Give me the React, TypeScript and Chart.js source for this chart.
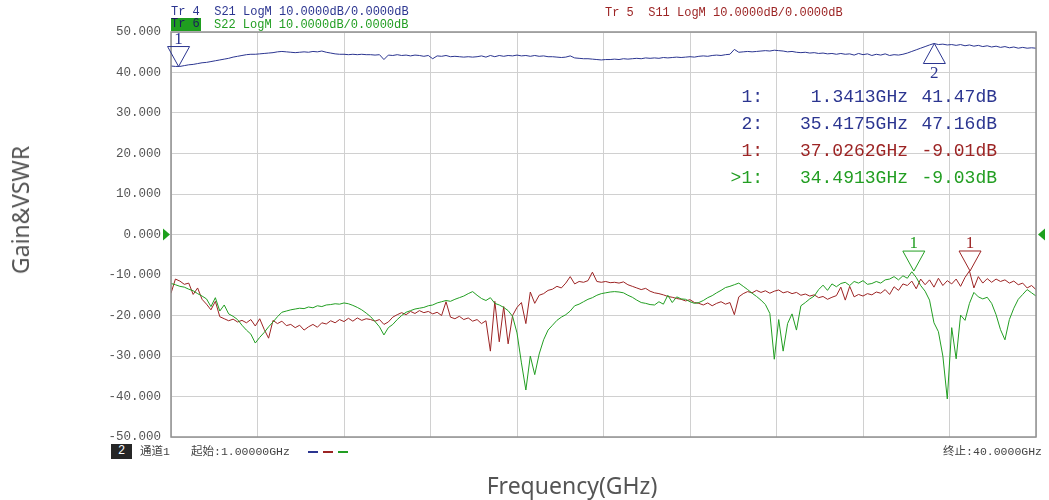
import React, { useEffect, useRef } from 'react';
import { Chart, registerables } from 'chart.js';

Chart.register(...registerables);

// ---------- Sweep definition ----------
const START_GHZ = 1;
const STOP_GHZ = 40;
const STEP_GHZ = 0.2;
const FREQS: number[] = Array.from(
  { length: Math.round((STOP_GHZ - START_GHZ) / STEP_GHZ) + 1 },
  (_, i) => +(START_GHZ + i * STEP_GHZ).toFixed(2)
);

// ---------- Axis ----------
const Y_MIN = -50;
const Y_MAX = 50;
const Y_STEP = 10;
const X_DIVISIONS = 10;

// ---------- Trace values (dB), one per sweep point ----------
const S21: number[] = [
  41.6, 41.5, 41.5, 41.7, 41.9, 42.0, 42.2, 42.4, 42.5, 42.7,
  42.9, 43.1, 43.3, 43.5, 43.8, 44.0, 44.2, 44.4, 44.5, 44.5,
  44.6, 44.7, 44.8, 44.9, 45.1, 45.2, 45.1, 45.0, 44.9, 45.0,
  45.1, 45.0, 45.2, 45.1, 45.3, 45.0, 44.8, 44.6, 44.5, 44.5,
  44.4, 44.5, 44.4, 44.5, 44.4, 44.4, 44.3, 44.4, 43.2, 44.3,
  44.2, 44.4, 44.2, 44.3, 44.1, 44.3, 44.2, 44.0, 44.2, 43.4,
  44.1, 44.0, 44.2, 43.9, 44.0, 43.9, 43.8, 43.9, 43.8, 43.9,
  44.1, 43.8, 44.2, 43.9, 44.2, 44.0, 44.2, 44.1, 44.3, 44.1,
  44.2, 44.0, 44.2, 44.0, 44.1, 43.9, 43.9, 43.8, 43.7, 43.8,
  44.1, 43.6, 43.5, 43.4, 43.4, 43.3, 43.2, 43.1, 43.2, 43.2,
  43.3, 43.2, 43.4, 43.3, 43.4, 43.5, 43.4, 43.6, 43.5, 43.6,
  43.5, 43.7, 43.6, 43.7, 43.8, 43.7, 43.8, 43.9, 43.8, 44.0,
  44.1, 44.0, 44.2, 44.3, 44.2, 44.4, 44.5, 45.7, 45.0, 45.1,
  45.2, 45.1, 45.2, 45.3, 45.4, 45.3, 45.5, 45.4, 45.3, 45.1,
  45.2, 45.0, 44.9, 45.0, 44.8, 44.9, 44.7, 44.8, 44.6, 44.7,
  44.5, 44.7, 44.5, 44.6, 44.3, 44.7, 44.4, 44.6, 44.2, 44.5,
  44.3, 44.6, 44.2, 44.4, 44.3, 44.5, 44.8, 45.2, 45.6, 46.0,
  46.4, 46.8, 47.16, 46.9, 47.0, 46.8, 46.9, 46.7, 46.9, 46.6,
  46.8, 46.5, 46.7, 46.4, 46.6, 46.3, 46.5, 46.2, 46.4, 46.1,
  46.3, 46.0, 46.2, 46.0, 46.1, 46.0,
];

const S11: number[] = [
  -14.5, -11.0, -11.5, -12.3, -12.0, -14.8, -13.2, -16.0, -17.2, -18.6,
  -16.5, -20.3, -20.8, -21.3, -20.9, -21.6, -21.2, -21.8, -21.0, -22.6,
  -20.8, -23.4, -25.6, -21.2, -22.0, -21.4, -22.5, -22.2, -23.0, -22.4,
  -23.6, -22.8, -22.2, -22.9, -21.8, -22.1, -21.3, -21.8, -21.0, -21.5,
  -20.7, -21.4, -20.6, -21.2, -20.8, -21.0, -21.4, -21.0, -22.2, -21.6,
  -20.4, -19.8, -19.3, -19.8, -19.0, -19.5, -18.8, -19.3, -19.0, -19.6,
  -19.2, -20.0, -16.6, -20.4, -20.8, -20.2, -21.0, -20.6, -21.4, -21.0,
  -22.0, -21.3, -28.8, -16.5, -26.5, -17.8, -27.0, -20.0, -18.0, -16.8,
  -22.0, -14.2, -17.0, -15.0, -14.6, -13.8, -13.5, -12.8, -13.2, -12.0,
  -10.4, -12.2, -11.6, -11.8, -11.4, -9.3, -11.6, -11.8, -11.6, -11.9,
  -11.8, -12.0, -11.7, -12.4, -12.8, -13.2, -13.6, -13.3, -14.0, -14.4,
  -14.6, -14.9, -15.3, -15.5, -15.8, -16.0, -16.4, -16.1, -16.8, -17.0,
  -17.4, -16.9, -17.6, -17.0, -16.6, -17.2, -16.8, -19.8, -15.4, -14.6,
  -14.1, -14.4, -13.8, -14.3, -13.9, -14.5, -14.0, -13.7, -14.4, -14.1,
  -14.6, -14.3, -15.0, -14.7, -15.2, -14.9, -15.6, -15.3, -16.0, -15.5,
  -15.1, -13.0, -16.2, -12.8, -15.4, -14.8, -15.2, -14.6, -14.9, -14.2,
  -14.5, -13.6, -14.8, -12.9, -13.8, -12.2, -12.6, -11.5, -13.4, -11.0,
  -12.4, -11.2, -13.0, -10.8, -12.6, -11.4, -12.2, -11.0, -12.8, -10.6,
  -9.0, -13.2, -10.4, -12.0, -10.9, -11.8, -11.0, -11.6, -11.2, -12.0,
  -11.5, -12.4, -12.0, -13.2, -12.6, -13.6,
];

const S22: number[] = [
  -12.1, -12.4, -12.8, -13.0, -13.5, -13.9, -14.6, -15.2, -15.9, -17.8,
  -15.6, -18.9, -17.4, -19.6, -20.2, -21.0, -22.4, -23.6, -24.6, -26.8,
  -25.4, -24.2, -22.8, -21.6, -20.3, -19.2, -18.9, -18.6, -18.4, -18.2,
  -18.3, -17.9, -18.1, -17.6, -17.8, -17.4, -17.3, -17.1, -17.2, -16.9,
  -17.1, -17.5, -18.0, -18.6, -19.4, -20.3, -21.5, -22.8, -24.8, -23.0,
  -22.2, -21.0, -20.0, -19.2, -18.8, -18.4, -18.2, -18.0, -17.6, -17.4,
  -16.9, -16.6, -16.3, -16.5, -16.0, -15.6, -15.2, -14.6, -14.1, -15.0,
  -15.8, -16.3, -15.6, -17.0, -17.4, -18.0, -18.8, -20.2, -24.3, -31.7,
  -38.4, -30.0, -34.6, -29.5, -26.0, -23.6, -22.4, -21.2, -20.4, -19.8,
  -18.9, -17.6, -17.2, -16.6, -16.0, -15.6, -15.0, -14.6, -14.4, -14.2,
  -14.1, -14.2, -14.4, -15.0, -15.5, -16.2, -16.8, -17.0, -17.3, -17.4,
  -16.6, -17.2, -15.0, -16.8, -15.4, -15.9, -16.0, -16.6, -17.0, -16.8,
  -16.3, -15.6, -15.1, -14.4, -13.8, -13.1, -12.8, -12.4, -12.0, -12.8,
  -13.6, -14.5, -15.3, -16.2, -17.3, -19.5, -30.8, -21.0, -28.8, -22.0,
  -19.6, -23.6, -17.6, -16.8, -15.9, -15.2, -13.6, -12.5, -13.8, -12.2,
  -12.9, -12.1, -11.8, -12.6, -11.6, -12.0, -11.4, -12.3, -12.1, -11.6,
  -12.0, -11.2, -11.0, -10.4, -11.2, -10.2, -10.8, -9.2, -10.6, -12.6,
  -14.0, -16.2, -21.8, -24.0, -30.0, -40.6, -23.0, -30.7, -19.9, -21.2,
  -17.0, -14.3, -15.4, -15.9, -15.5, -17.0, -19.8, -23.5, -26.0, -21.0,
  -18.2, -16.0, -14.8, -13.6, -14.4, -15.2,
];

// ---------- Markers ----------
const MARKER_TRACE = ['S21', 'S21', 'S11', 'S22'];
const MARKER_NAME = ['1', '2', '1', '1'];
const MARKER_FREQ = [1.3413, 35.4175, 37.0262, 34.4913];
const MARKER_DB = [41.47, 47.16, -9.01, -9.03];
const ACTIVE_MARKER = 3;

// ---------- Header texts ----------
const TRACE_HEADERS = [
  { tr: 'Tr 4', text: 'S21 LogM 10.0000dB/0.0000dB' },
  { tr: 'Tr 6', text: 'S22 LogM 10.0000dB/0.0000dB' },
  { tr: 'Tr 5', text: 'S11 LogM 10.0000dB/0.0000dB' },
];
const CHANNEL_TEXT = '通道1';
const START_TEXT = '起始:1.00000GHz';
const STOP_TEXT = '终止:40.0000GHz';
const Y_TITLE = 'Gain&VSWR';
const X_TITLE = 'Frequency(GHz)';

// ---------- Styles ----------
const COLORS: Record<string, string> = {
  S21: '#2b3590',
  S11: '#9c2424',
  S22: '#229e22',
};
const MONO = '"Liberation Mono", "DejaVu Sans Mono", monospace';
const CJK = '"Liberation Mono", "Noto Sans CJK SC", monospace';
const W = 1049;
const H = 500;

const markerPlugin = {
  id: 'vnaMarkers',
  afterDatasetsDraw(chart: any) {
    const { ctx, chartArea, scales } = chart;
    const xs = scales.x;
    const ys = scales.y;
    ctx.save();
    // frame
    ctx.strokeStyle = '#909090';
    ctx.lineWidth = 1.5;
    ctx.strokeRect(chartArea.left, chartArea.top, chartArea.right - chartArea.left, chartArea.bottom - chartArea.top);

    // markers
    ctx.lineWidth = 1;
    ctx.font = '17px "Liberation Serif", serif';
    ctx.textAlign = 'center';
    MARKER_FREQ.forEach((f, i) => {
      const color = COLORS[MARKER_TRACE[i]];
      const px = xs.getPixelForValue(f);
      const py = ys.getPixelForValue(MARKER_DB[i]);
      const up = MARKER_NAME[i] === '2';
      ctx.strokeStyle = color;
      ctx.fillStyle = color;
      ctx.beginPath();
      if (up) {
        ctx.moveTo(px, py);
        ctx.lineTo(px - 11, py + 20);
        ctx.lineTo(px + 11, py + 20);
      } else {
        ctx.moveTo(px, py);
        ctx.lineTo(px - 11, py - 20);
        ctx.lineTo(px + 11, py - 20);
      }
      ctx.closePath();
      ctx.stroke();
      if (up) {
        ctx.textBaseline = 'top';
        ctx.fillText(MARKER_NAME[i], px, py + 22);
      } else {
        ctx.textBaseline = 'bottom';
        ctx.fillText(MARKER_NAME[i], px, py - 19);
      }
    });

    // reference level arrows at 0 dB
    const y0 = ys.getPixelForValue(0);
    ctx.fillStyle = '#1ea01e';
    ctx.beginPath();
    ctx.moveTo(chartArea.left - 8, y0 - 6);
    ctx.lineTo(chartArea.left - 1, y0);
    ctx.lineTo(chartArea.left - 8, y0 + 6);
    ctx.closePath();
    ctx.fill();
    ctx.beginPath();
    ctx.moveTo(chartArea.right + 9, y0 - 6);
    ctx.lineTo(chartArea.right + 2, y0);
    ctx.lineTo(chartArea.right + 9, y0 + 6);
    ctx.closePath();
    ctx.fill();
    ctx.restore();
  },
};

function ChartCanvas() {
  const ref = useRef<HTMLCanvasElement | null>(null);
  useEffect(() => {
    if (!ref.current) return;
    const series: Record<string, number[]> = { S21, S11, S22 };
    const xGrid = Array.from({ length: X_DIVISIONS + 1 }, (_, k) =>
      +(START_GHZ + ((STOP_GHZ - START_GHZ) * k) / X_DIVISIONS).toFixed(3)
    );
    const chart = new Chart(ref.current, {
      type: 'line',
      data: {
        datasets: ['S21', 'S22', 'S11'].map((key) => ({
          label: key,
          data: FREQS.map((f, i) => ({ x: f, y: series[key][i] })),
          borderColor: COLORS[key],
          borderWidth: 1,
          pointRadius: 0,
          tension: 0,
          fill: false,
        })),
      },
      options: {
        animation: false,
        responsive: false,
        maintainAspectRatio: false,
        devicePixelRatio: 1,
        layout: { padding: { left: 0, right: 13, top: 32, bottom: 63 } },
        plugins: { legend: { display: false }, tooltip: { enabled: false } },
        scales: {
          x: {
            type: 'linear',
            min: START_GHZ,
            max: STOP_GHZ,
            ticks: { display: false },
            grid: { color: '#d0d0d0', lineWidth: 1, drawTicks: false },
            border: { display: false },
            afterBuildTicks: (s: any) => {
              s.ticks = xGrid.map((v) => ({ value: v }));
            },
            afterFit: (s: any) => {
              s.height = 0;
            },
          },
          y: {
            min: Y_MIN,
            max: Y_MAX,
            ticks: {
              stepSize: Y_STEP,
              callback: (v: any) => Number(v).toFixed(3),
              font: { family: MONO, size: 12.5 },
              color: '#555555',
              padding: 10,
            },
            grid: { color: '#d0d0d0', lineWidth: 1, drawTicks: false },
            border: { display: false },
            afterFit: (s: any) => {
              s.width = 171;
            },
          },
        },
      } as any,
      plugins: [markerPlugin],
    });
    return () => chart.destroy();
  }, []);
  return (
    <canvas
      ref={ref}
      width={W}
      height={H}
      style={{ position: 'absolute', left: 0, top: 0, width: W, height: H }}
    />
  );
}

const abs = (extra: React.CSSProperties): React.CSSProperties => ({
  position: 'absolute',
  whiteSpace: 'pre',
  margin: 0,
  ...extra,
});

export default function App() {
  const rowCenters = [97, 124, 151, 178];
  const headerColors = [COLORS.S21, COLORS.S22, COLORS.S11];
  return (
    <div
      style={{
        position: 'fixed',
        left: 0,
        top: 0,
        width: W,
        height: H,
        background: '#ffffff',
        overflow: 'hidden',
      }}
    >
      <ChartCanvas />

      {/* trace headers */}
      <div style={abs({ left: 171, top: 5, font: `12px ${MONO}`, lineHeight: '14px', color: headerColors[0] })}>
        {TRACE_HEADERS[0].tr + '  ' + TRACE_HEADERS[0].text}
      </div>
      <div
        style={abs({
          left: 171,
          top: 18,
          width: 30,
          height: 13,
          background: '#1f9e1f',
          font: `12px ${MONO}`,
          lineHeight: '13px',
          color: '#1b1b5c',
        })}
      >
        {TRACE_HEADERS[1].tr}
      </div>
      <div style={abs({ left: 214, top: 18, font: `12px ${MONO}`, lineHeight: '14px', color: headerColors[1] })}>
        {TRACE_HEADERS[1].text}
      </div>
      <div style={abs({ left: 605, top: 6, font: `12px ${MONO}`, lineHeight: '14px', color: headerColors[2] })}>
        {TRACE_HEADERS[2].tr + '  ' + TRACE_HEADERS[2].text}
      </div>

      {/* marker table */}
      {MARKER_FREQ.map((f, i) => {
        const color = COLORS[MARKER_TRACE[i]];
        const top = rowCenters[i] - 11;
        const font = `18px ${MONO}`;
        return (
          <React.Fragment key={i}>
            <div style={abs({ right: W - 763, top, font, lineHeight: '22px', color, textAlign: 'right' })}>
              {(i === ACTIVE_MARKER ? '>' : '') + MARKER_NAME[i] + ':'}
            </div>
            <div style={abs({ right: W - 908, top, font, lineHeight: '22px', color, textAlign: 'right' })}>
              {f.toFixed(4) + 'GHz'}
            </div>
            <div style={abs({ right: W - 997, top, font, lineHeight: '22px', color, textAlign: 'right' })}>
              {MARKER_DB[i].toFixed(2) + 'dB'}
            </div>
          </React.Fragment>
        );
      })}

      {/* footer */}
      <div
        style={abs({
          left: 111,
          top: 444,
          width: 21,
          height: 15,
          background: '#262626',
          color: '#ffffff',
          font: `12px ${MONO}`,
          lineHeight: '15px',
          textAlign: 'center',
        })}
      >
        2
      </div>
      <div style={abs({ left: 140, top: 444, font: `11.5px ${CJK}`, lineHeight: '15px', color: '#444' })}>
        {CHANNEL_TEXT}
      </div>
      <div style={abs({ left: 191, top: 444, font: `11.5px ${CJK}`, lineHeight: '15px', color: '#444' })}>
        {START_TEXT}
      </div>
      {['S21', 'S11', 'S22'].map((k, i) => (
        <div
          key={k}
          style={abs({ left: 308 + i * 15, top: 451, width: 10, height: 1.5, background: COLORS[k] })}
        />
      ))}
      <div style={abs({ right: W - 1042, top: 444, font: `11.5px ${CJK}`, lineHeight: '15px', color: '#444' })}>
        {STOP_TEXT}
      </div>

      {/* axis titles */}
      <div
        style={abs({
          left: 20,
          top: 210,
          transform: 'translate(-50%, -50%) rotate(-90deg)',
          font: `23px "Noto Sans", sans-serif`,
          color: '#555',
        })}
      >
        {Y_TITLE}
      </div>
      <div
        style={abs({
          left: 572,
          top: 485,
          transform: 'translate(-50%, -50%)',
          font: `23px "Noto Sans", sans-serif`,
          color: '#555',
        })}
      >
        {X_TITLE}
      </div>
    </div>
  );
}
